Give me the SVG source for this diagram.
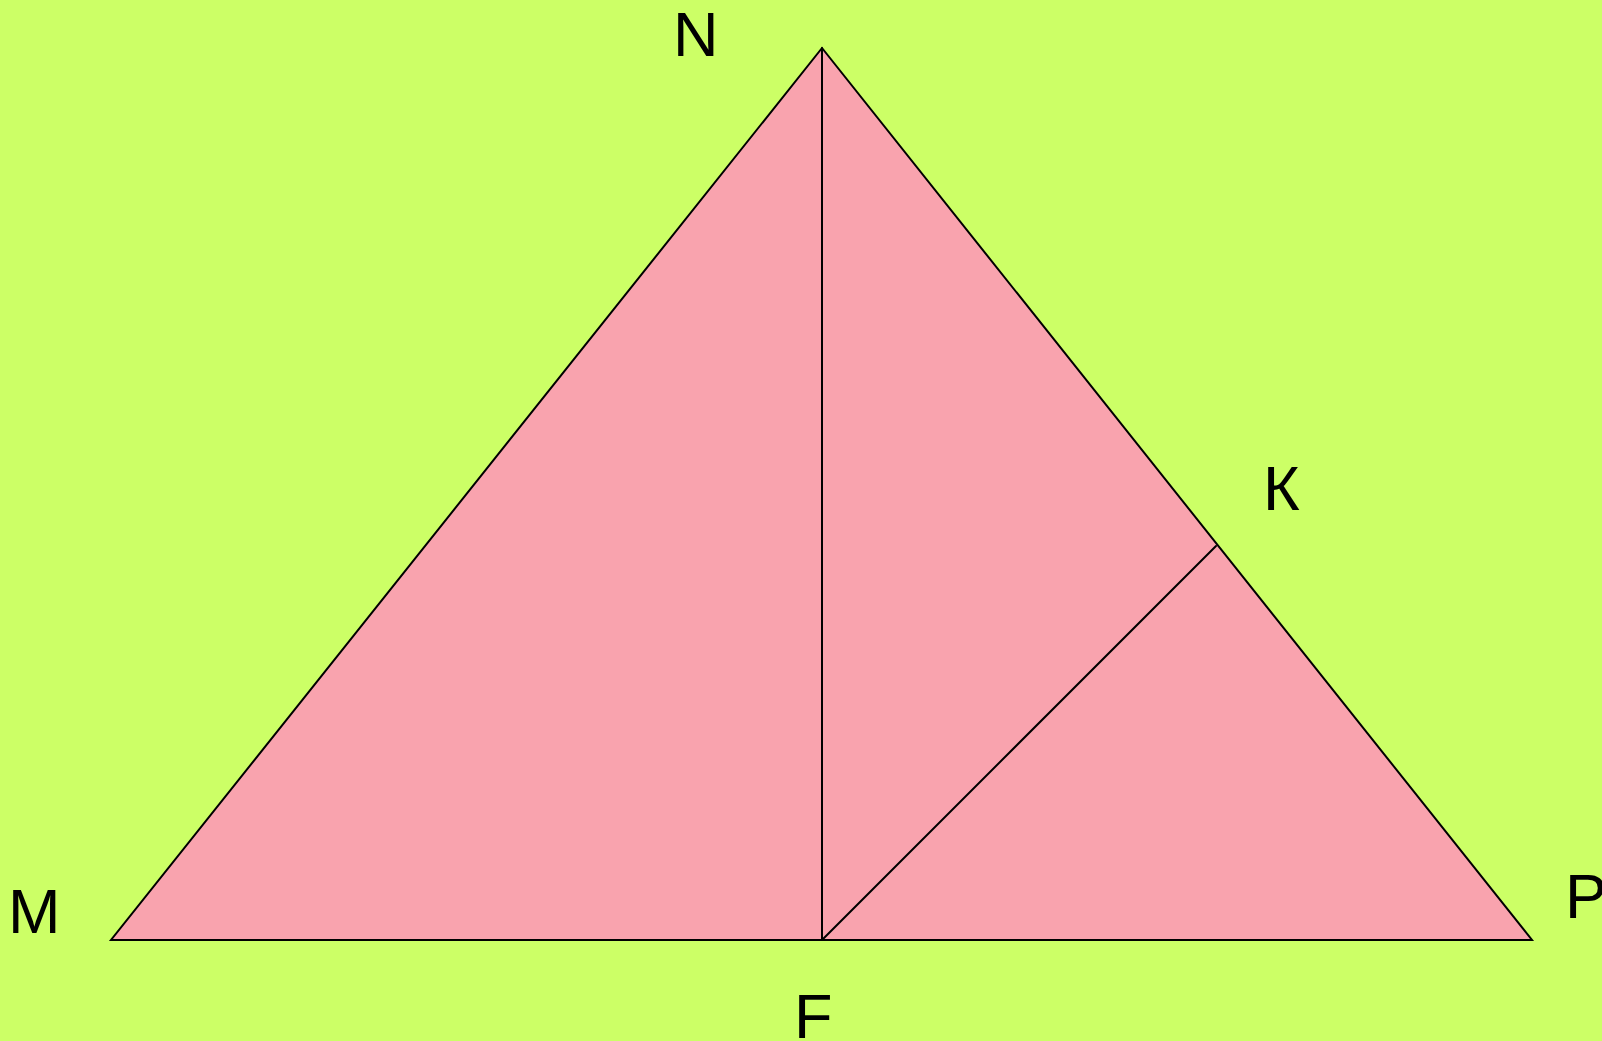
<svg xmlns="http://www.w3.org/2000/svg" width="1602" height="1041" viewBox="0 0 1602 1041">
<style>
.lbl{font-family:"Liberation Sans",Arial,sans-serif;font-size:63px;fill:#000}
.edge{stroke:#000;stroke-width:2;fill:none;stroke-linecap:round}
</style>
<rect width="1602" height="1041" fill="#CCFF66"/>
<g id="triangle">
<polygon points="822,48 111,940 1532,940" fill="#F9A3AE" stroke="#000" stroke-width="2" stroke-linejoin="miter"/>
</g>
<g id="connectors">
<line class="edge" x1="822" y1="48" x2="822" y2="940"/>
<line class="edge" x1="822" y1="940" x2="1216" y2="546"/>
</g>
<g id="node-N"><text class="lbl" x="673" y="56">N</text></g>
<g id="node-K"><text class="lbl" x="1263" y="510">К</text></g>
<g id="node-M"><text class="lbl" x="8" y="933">M</text></g>
<g id="node-F"><text class="lbl" x="794" y="1038">F</text></g>
<g id="node-P"><text class="lbl" x="1565" y="918">P</text></g>
</svg>
